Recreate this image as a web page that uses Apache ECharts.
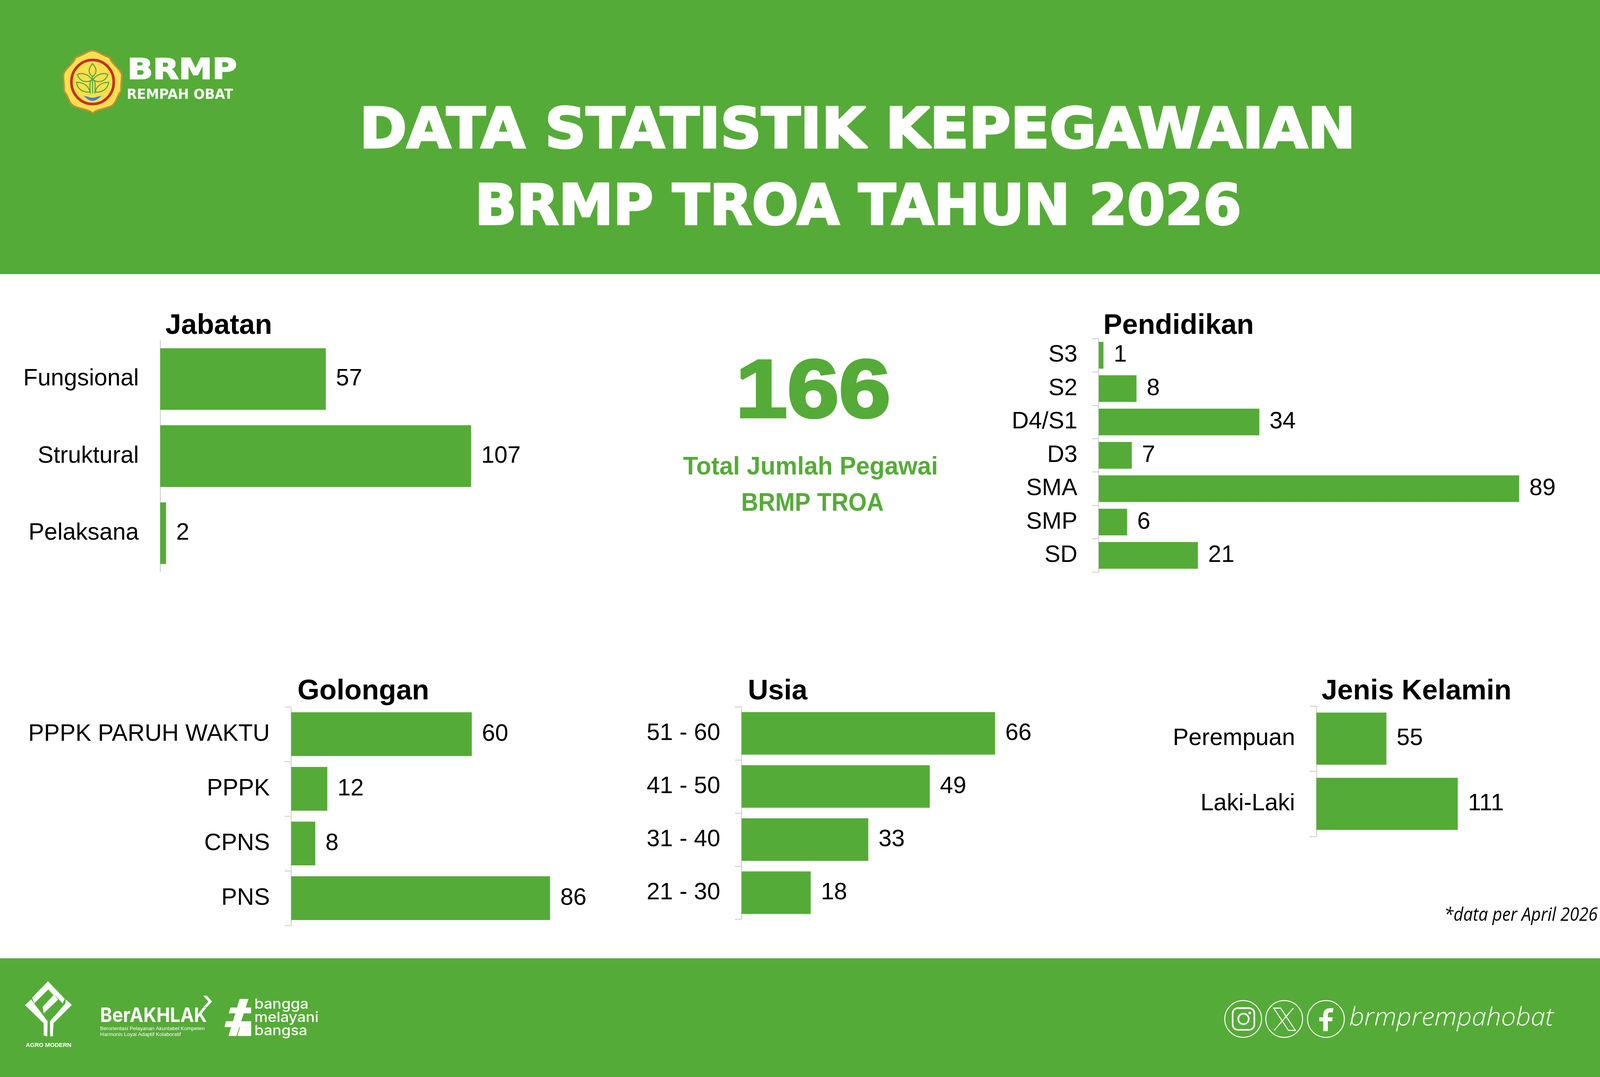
<!DOCTYPE html>
<html>
<head>
<meta charset="utf-8">
<style>html,body{margin:0;padding:0;background:#fff;overflow:hidden}#c{width:100vw;height:100vh}</style>
<script src="https://cdn.jsdelivr.net/npm/echarts@6/dist/echarts.min.js"></script>
</head>
<body>
<div id="c"></div>
<script>
const jabatanLabels = ['Fungsional', 'Struktural', 'Pelaksana'];
const jabatanValues = [57, 107, 2];
const pendidikanLabels = ['S3', 'S2', 'D4/S1', 'D3', 'SMA', 'SMP', 'SD'];
const pendidikanValues = [1, 8, 34, 7, 89, 6, 21];
const golonganLabels = ['PPPK PARUH WAKTU', 'PPPK', 'CPNS', 'PNS'];
const golonganValues = [60, 12, 8, 86];
const usiaLabels = ['51 - 60', '41 - 50', '31 - 40', '21 - 30'];
const usiaValues = [66, 49, 33, 18];
const kelaminLabels = ['Perempuan', 'Laki-Laki'];
const kelaminValues = [55, 111];

const GREEN = '#55ab37', AXIS = '#d9d9d9', SANS = '"Liberation Sans", Arial, sans-serif';
const DEJAVU = '"DejaVu Sans"';
const panels = [
  {title:'Jabatan', cats:jabatanLabels, vals:jabatanValues, left:488, top:872, h:592, unit:8.85, max:120, tick:0, tx:504, ty:835},
  {title:'Pendidikan', cats:pendidikanLabels, vals:pendidikanValues, left:3347, top:867, h:598, unit:14.39, max:100, tick:20, tx:3361, ty:835},
  {title:'Golongan', cats:golonganLabels, vals:golonganValues, left:887, top:1810, h:560, unit:9.17, max:120, tick:20, tx:906, ty:1771},
  {title:'Usia', cats:usiaLabels, vals:usiaValues, left:2259, top:1810, h:544, unit:11.7, max:120, tick:20, tx:2278, ty:1771},
  {title:'Jenis Kelamin', cats:kelaminLabels, vals:kelaminValues, left:4010, top:1808, h:334, unit:3.88, max:120, tick:20, tx:4026, ty:1771}
];

const chart = echarts.init(document.getElementById('c'), null, {renderer:'canvas'});
// The design is 4874x2758 units. The browser may clamp the window, so positions follow
// the real viewport per axis, while text and logos use the width scale and keep their shape.
const SX = chart.getWidth() / 4874, SY = chart.getHeight() / 2758;

function rawText(text, x, y, size, o){
  o = o || {};
  return {type:'text', x:x, y:y, scaleX:o.sx||1, z:10, style:{
    text:text, x:0, y:0, fill:o.fill||'#000', align:o.align||'left', verticalAlign:'middle',
    fontFamily:o.font||SANS, fontSize:size, fontWeight:o.weight||'normal', fontStyle:o.style||'normal',
    stroke:o.stroke||null, lineWidth:o.lw||0
  }};
}
// free-standing text: position follows both axes, size follows width
function T(text, x, y, size, o){
  const e = rawText(text, x*SX, y*SY, size*SX, o);
  if (o && o.lw) e.style.lineWidth = o.lw*SX;
  return e;
}
// cluster: keeps its own shape, anchored vertically at design y = b
function cluster(b, children){
  return {type:'group', x:0, y:b*SY - b*SX, scaleX:SX, scaleY:SX, children:children};
}
function poly(pts, style){ return {type:'polygon', z:10, shape:{points:pts}, style:Object.assign({fill:'#fff'}, style||{})}; }
const ring = (cx,cy,r,lw) => ({type:'circle', z:10, shape:{cx:cx,cy:cy,r:r}, style:{fill:'none',stroke:'#fff',lineWidth:lw}});

const LOGO_Y = 210, FOOT_Y = 2606;
const graphic = [
  {type:'rect', z:0, shape:{x:0,y:0,width:4874*SX,height:702*SY}, style:{fill:GREEN}},
  {type:'rect', z:0, shape:{x:0,y:2454*SY,width:4874*SX,height:304*SY}, style:{fill:GREEN}},
  T('DATA STATISTIK KEPEGAWAIAN', 2612, 341, 170, {fill:'#fff', align:'center', weight:'bold', font:DEJAVU, sx:1.022, stroke:'#fff', lw:6}),
  T('BRMP TROA TAHUN 2026', 2614, 537, 170, {fill:'#fff', align:'center', weight:'bold', font:DEJAVU, sx:0.981, stroke:'#fff', lw:6}),
  T('166', 2477, 1010, 250, {fill:GREEN, align:'center', weight:'bold', stroke:GREEN, lw:8, sx:1.13}),
  T('Total Jumlah Pegawai', 2469, 1197, 78, {fill:GREEN, align:'center', weight:'bold', sx:0.96}),
  T('BRMP TROA', 2475, 1290, 78, {fill:GREEN, align:'center', weight:'bold', sx:0.92}),
  T('*data per April 2026', 4867, 2345, 56, {align:'right', style:'italic', font:'"Open Sans"', sx:0.92}),
  cluster(LOGO_Y, [
    rawText('BRMP', 388, 178, 86, {fill:'#fff', weight:'bold', font:DEJAVU, sx:1.19, stroke:'#fff', lw:3}),
    rawText('REMPAH OBAT', 386, 250, 42, {fill:'#fff', weight:'bold', font:DEJAVU, sx:0.96})
  ]),
  cluster(FOOT_Y, [
    rawText('brmprempahobat', 4110, 2608, 76, {fill:'#fff', style:'italic', font:'"Open Sans"', weight:300, sx:1.05}),
    rawText('AGRO MODERN', 148, 2690, 18, {fill:'#fff', align:'center', weight:'bold'}),
    rawText('BerAKHLAK', 305, 2601, 60, {fill:'#fff', weight:'bold', font:'Inter', sx:0.925}),
    rawText('Berorientasi Pelayanan Akuntabel Kompeten', 305, 2640, 16, {fill:'#fff'}),
    rawText('Harmonis Loyal Adaptif Kolaboratif', 305, 2657, 16, {fill:'#fff'}),
    rawText('bangga', 775, 2566, 42, {fill:'#fff', font:'Inter', weight:500, sx:1.09}),
    rawText('melayani', 775, 2607, 42, {fill:'#fff', font:'Inter', weight:500, sx:1.09}),
    rawText('bangsa', 775, 2647, 42, {fill:'#fff', font:'Inter', weight:500, sx:1.09}),
    poly([[619,2539],[630,2539],[646,2557],[630,2574],[619,2574],[635,2557]]),
    poly([[730,2549],[757,2549],[720,2662],[696,2662]]),
    poly([[702,2575],[765,2575],[765,2593],[697,2593]]),
    poly([[688,2617],[765,2617],[765,2635],[684,2635]]),
    poly([[731,2635],[765,2635],[765,2662],[723,2662]]),
    poly([[146,2495],[197,2548],[191,2563],[178,2549],[147,2520],[104,2563],[98,2545]]),
    poly([[147,2522],[163,2537],[130,2573],[133,2593],[177,2551],[163,2535]]),
    poly([[95,2550],[76,2568],[133,2623],[133,2660],[144,2663],[145,2617],[104,2563]]),
    poly([[200,2550],[219,2567],[163,2623],[161,2663],[153,2663],[152,2617],[199,2563]]),
    ring(3787,2610,56,3), ring(3912,2610,56,3), ring(4039,2610,56,3),
    {type:'rect', z:10, shape:{x:3755,y:2577,width:66,height:66,r:16}, style:{fill:'none',stroke:'#fff',lineWidth:5}},
    ring(3788,2610,16,5),
    {type:'circle', z:10, shape:{cx:3807,cy:2592,r:4}, style:{fill:'#fff'}},
    poly([[3880,2577],[3901,2577],[3946,2645],[3925,2645]], {fill:'none',stroke:'#fff',lineWidth:3}),
    {type:'line', z:10, shape:{x1:3940,y1:2577,x2:3881,y2:2645}, style:{stroke:'#fff',lineWidth:3}}
  ])
];
panels.forEach(p => graphic.push(T(p.title, p.tx, p.ty, 86, {weight:'bold'})));

const option = {
  animation:false,
  backgroundColor:'#fff',
  graphic:graphic,
  grid: panels.map(p => ({left:p.left*SX, top:p.top*SY, width:p.unit*p.max*SX, height:p.h*SY, containLabel:false})),
  xAxis: panels.map((p,i) => ({type:'value', gridIndex:i, min:0, max:p.max, show:false})),
  yAxis: panels.map((p,i) => ({
    type:'category', gridIndex:i, inverse:true, data:p.cats,
    axisLine:{show:true, lineStyle:{color:AXIS, width:3}},
    axisTick:{show:p.tick>0, length:p.tick*SX, lineStyle:{color:AXIS, width:3}},
    axisLabel:{fontFamily:SANS, fontSize:72*SX, color:'#000', margin:65*SX},
    splitLine:{show:false}
  })),
  series: panels.map((p,i) => ({
    type:'bar', xAxisIndex:i, yAxisIndex:i, data:p.vals, barCategoryGap:'20%',
    itemStyle:{color:GREEN},
    label:{show:true, position:'right', distance:31*SX, fontFamily:SANS, fontSize:72*SX, color:'#000'},
    silent:true
  }))
};
chart.setOption(option);

// Emblem and icon outlines drawn as path elements
const zr = chart.getZr();
function P(d, style, b){
  const el = echarts.graphic.makePath(d, {z:20, style:style});
  el.x = 0; el.y = b*SY - b*SX; el.scaleX = SX; el.scaleY = SX;
  el.dirty && el.dirty();
  zr.add(el);
}
const LEAF = {fill:'none', stroke:'#4ba43a', lineWidth:3};
P('M282 114 C268 114 255 128 230 135 C225 155 193 172 193 190 C193 205 197 225 195 238 C208 250 208 272 223 282 C240 292 270 292 282 306 C294 292 324 292 341 282 C356 272 356 250 369 238 C367 225 371 205 371 190 C371 172 339 155 334 135 C309 128 296 114 282 114 Z',
  {fill:'#fbdf4e', stroke:'#b98f36', lineWidth:5}, LOGO_Y);
P('M282 143 C318 143 346.5 173 346.5 210 C346.5 247 318 277 282 277 C246 277 217.5 247 217.5 210 C217.5 173 246 143 282 143 Z',
  {fill:'none', stroke:'#c42f23', lineWidth:8}, LOGO_Y);
P('M282 154 C268 170 268 182 282 194 C296 182 296 170 282 154 Z', LEAF, LOGO_Y);
P('M235 187 C252 180 272 188 281 204 C266 212 244 212 235 187 Z', LEAF, LOGO_Y);
P('M329 187 C312 180 292 188 283 204 C298 212 320 212 329 187 Z', LEAF, LOGO_Y);
P('M233 211 C255 211 271 222 274 241 C252 242 236 232 233 211 Z', LEAF, LOGO_Y);
P('M331 211 C309 211 293 222 290 241 C312 242 328 232 331 211 Z', LEAF, LOGO_Y);
P('M282 194 L282 245 M276 204 C272 218 275 232 275 245 M288 204 C292 218 289 232 289 245', LEAF, LOGO_Y);
P('M254 252 C266 253 272 258 282 258 C292 258 298 253 310 252 C300 260 292 268 282 267 C272 268 264 260 254 252 Z', {fill:'#3b7fe0'}, LOGO_Y);
P('M4062 2577 L4052 2577 C4038 2577 4031 2585 4031 2598 L4031 2605 L4019 2605 L4019 2617 L4031 2617 L4031 2647 L4045 2647 L4045 2617 L4058 2617 L4060 2605 L4045 2605 L4045 2598 C4045 2592 4048 2590 4053 2590 L4060 2590 Z', {fill:'#fff'}, FOOT_Y);
</script>
</body>
</html>
